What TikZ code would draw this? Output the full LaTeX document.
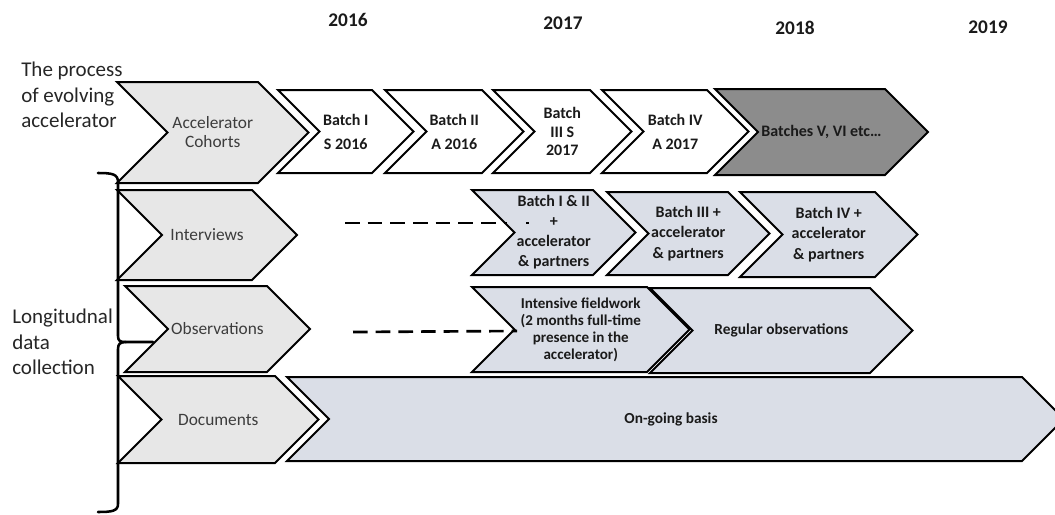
\documentclass[tikz,border=0pt]{standalone}
\usepackage{fontspec}
\setmainfont{Carlito}
\definecolor{cohortgray}{HTML}{E7E7E7}
\definecolor{batchdark}{HTML}{8C8C8C}
\definecolor{databluegray}{HTML}{DADEE7}
\definecolor{softtext}{HTML}{3C3C3C}
\definecolor{sidetext}{HTML}{262626}
\definecolor{boldtext}{HTML}{1A1A1A}

% chevron: #1 name, #2 fill, #3 left x, #4 top-right x, #5 top y, #6 bottom y
\newcommand\chevshape[6]{%
  \draw[chevline,fill=#2] (#3,#5) -- (#4,#5) -- ({#4+(#6-#5)/2},{(#5+#6)/2})
    -- (#4,#6) -- (#3,#6) -- ({#3+(#6-#5)/2},{(#5+#6)/2}) -- cycle;
  \coordinate (#1) at ({(#3+#4+(#6-#5)/2)/2},{(#5+#6)/2});
}

\begin{document}
\begin{tikzpicture}[x=0.75pt,y=-0.75pt,
  chevline/.style={draw=black,line width=1.5pt,line join=miter},
  rowlbl/.style={align=center,text=softtext,font=\fontsize{13}{14.25}\selectfont,inner sep=0pt},
  batchlbl/.style={align=center,text=boldtext,font=\bfseries\fontsize{12}{15}\selectfont,inner sep=0pt},
  yearlbl/.style={text=boldtext,font=\bfseries\fontsize{14.5}{16}\selectfont,inner sep=0pt},
  sidelbl/.style={align=left,anchor=west,text=sidetext,font=\fontsize{15.75}{19}\selectfont,inner sep=0pt},
  dashline/.style={line width=1.6pt,dash pattern=on 11pt off 6pt},
  bracestyle/.style={line width=1.9pt,line cap=round,line join=round}]
\useasboundingbox (0,0) rectangle (1055,514);
\clip (0,0) rectangle (1055,514);

% years
\node[yearlbl] (y16) at (348,20) {2016};
\node[yearlbl] (y17) at (563,23) {2017};
\node[yearlbl] (y18) at (795,28) {2018};
\node[yearlbl] (y19) at (988,27) {2019};

% side captions
\node[sidelbl] (proc) at (21,95) {The process\\of evolving\\accelerator};
\node[sidelbl] (longi) at (12,342) {Longitudnal\\data\\collection};

% row 1: accelerator cohorts
\chevshape{cohorts}{cohortgray}{117}{258}{82}{183}
\node[rowlbl] (cohorts-t) at (cohorts) {Accelerator\\Cohorts};
\chevshape{b1}{white}{278}{372}{90}{173}
\node[batchlbl,font=\bfseries\fontsize{12}{18}\selectfont] (b1-t) at (b1) {Batch I\\S 2016};
\chevshape{b2}{white}{385}{482}{90}{173}
\node[batchlbl,font=\bfseries\fontsize{12}{18}\selectfont] (b2-t) at (b2) {Batch II\\A 2016};
\chevshape{b3}{white}{493}{590}{90}{173}
\node[batchlbl,font=\bfseries\fontsize{12}{14}\selectfont] (b3-t) at (b3) {Batch\\III S\\2017};
\chevshape{b4}{white}{602}{707}{90}{173}
\node[batchlbl,font=\bfseries\fontsize{12}{18}\selectfont] (b4-t) at (b4) {Batch IV\\A 2017};
\chevshape{b5}{batchdark}{715}{885}{89}{175}
\node[batchlbl] (b5-t) at (b5) {Batches V, VI etc…};

% row 2: interviews
\chevshape{intv}{cohortgray}{117}{252}{190}{280}
\node[rowlbl] (intv-t) at (intv) {Interviews};
\chevshape{i12}{databluegray}{472}{593}{190}{275}
\node[batchlbl] (i12-t) at (i12) {Batch I \& II\\+\\accelerator\\\& partners};
\chevshape{i3}{databluegray}{607}{728}{192}{275}
\node[batchlbl,font=\bfseries\fontsize{12}{15.4}\selectfont] (i3-t) at (i3) {Batch III +\\accelerator\\\& partners};
\chevshape{i4}{databluegray}{740}{875}{192}{277}
\node[batchlbl,font=\bfseries\fontsize{12}{15.4}\selectfont] (i4-t) at (i4) {Batch IV +\\accelerator\\\& partners};

% row 3: observations
\chevshape{obs}{cohortgray}{125}{267}{286}{372}
\node[rowlbl] (obs-t) at (obs) {Observations};
\chevshape{fw}{databluegray}{472}{647}{287}{372}
\node[batchlbl,font=\bfseries\fontsize{11.3}{12.75}\selectfont] (fw-t) at (fw) {Intensive fieldwork\\(2 months full-time\\presence in the\\accelerator)};
\chevshape{reg}{databluegray}{650}{870}{288}{373}
\node[batchlbl,font=\bfseries\fontsize{11.5}{14}\selectfont] (reg-t) at (reg) {Regular observations};

% row 4: documents
\chevshape{docs}{cohortgray}{118}{275}{376}{463}
\node[rowlbl] (docs-t) at (docs) {Documents};
\chevshape{ongo}{databluegray}{287}{1022}{377}{461}
\node[batchlbl,font=\bfseries\fontsize{11.5}{14}\selectfont] (ongo-t) at (671,419) {On-going basis};

% dashed lead-ins
\coordinate (da1) at (345,223);
\coordinate (da2) at (507,223);
\coordinate (da3) at (526,223);
\coordinate (da4) at (528.5,223);
\draw[dashline] (da1) -- (da2);
\draw[line width=1.6pt] (da3) -- (da4);
\coordinate (db1) at (353,332);
\coordinate (db2) at (517,331);
\draw[dashline,line width=2pt] (db1) -- (db2);

% curly brace grouping the data rows
\coordinate (brtop) at (98,173);
\coordinate (brnub) at (153,342);
\coordinate (brbot) at (98,512);
\draw[bracestyle] (brtop) .. controls (112,173) and (118,174) .. (118,182)
  -- (118,336) .. controls (118,341) and (120,342) .. (126,342) -- (brnub);
\draw[bracestyle] (126,342) .. controls (120,342) and (118,344) .. (118,349)
  -- (118,504) .. controls (118,511) and (112,512) .. (brbot);
\end{tikzpicture}
\end{document}
